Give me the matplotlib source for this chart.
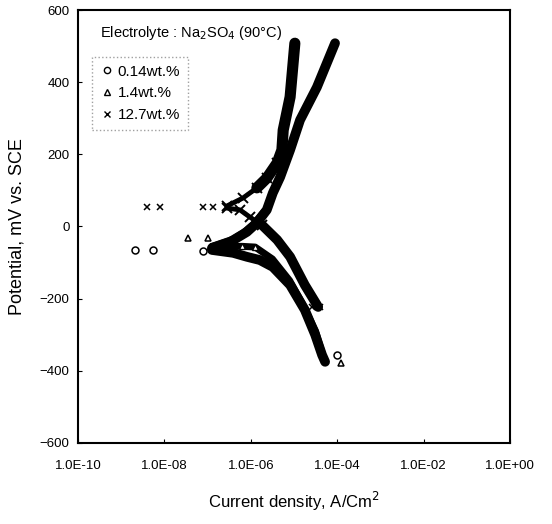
import numpy as np
import matplotlib
matplotlib.use('Agg')
import matplotlib.pyplot as plt
from matplotlib.lines import Line2D

plt.rcParams['font.family'] = ['Liberation Sans', 'DejaVu Sans']

# log10(current density), potential (mV)
# 12.7 wt.%
x127_iso = [-8.40, -8.10, -7.11, -6.88]
y127_iso = [54, 54, 54, 54]
x127_an = [-6.55, -6.18, -5.86, -5.63, -5.39, -5.28, -5.25, -5.09, -4.98]
y127_an = [57, 79, 107, 134, 176, 212, 267, 359, 508]
x127_ca = [-6.55, -6.25, -6.02, -5.74, -5.39, -5.09, -4.75, -4.44]
y127_ca = [51, 46, 26, 4, -37, -84, -162, -223]
x127_end = [-4.58, -4.40]
y127_end = [-222, -223]

# 0.14 wt.%
x014_iso = [-8.68, -8.26, -7.11]
y014_iso = [-65, -65, -68]
x014_an = [-6.90, -6.48, -6.09, -5.86, -5.63, -5.49, -5.32, -5.09, -4.86, -4.47, -4.05]
y014_an = [-60, -43, -15, 10, 46, 93, 137, 212, 295, 386, 508]
x014_ca = [-6.90, -6.41, -6.09, -5.79, -5.49, -5.09, -4.75, -4.51, -4.35, -4.28]
y014_ca = [-65, -73, -84, -93, -112, -162, -231, -300, -356, -375]
x014_end = [-4.00]
y014_end = [-356]

# 1.4 wt.%
x14_iso = [-7.45, -6.99]
y14_iso = [-32, -32]
x14_an = [-6.90, -6.41, -6.18, -5.95, -5.70]
y14_an = [-55, -35, -18, 5, 40]
x14_ca = [-6.90, -6.20, -5.90, -5.50, -5.10, -4.80, -4.50, -4.35, -4.30]
y14_ca = [-55, -55, -57, -90, -150, -215, -290, -350, -370]
x14_end = [-3.91]
y14_end = [-378]

xticks = [1e-10, 1e-8, 1e-6, 1e-4, 1e-2, 1e0]
xticklabels = ['1.0E-10', '1.0E-08', '1.0E-06', '1.0E-04', '1.0E-02', '1.0E+00']
yticks = [-600, -400, -200, 0, 200, 400, 600]

fig = plt.figure(figsize=(5.52, 5.24), dpi=100)
ax = fig.add_axes([0.1413, 0.1546, 0.7826, 0.8263])

def p(v):
    return 10 ** np.array(v)

# dense measurement bands (thin start where single markers are still visible)
ax.plot(p(x127_an[:3]), y127_an[:3], color='black', lw=3.5, zorder=2)
ax.plot(p(x127_an[2:]), y127_an[2:], color='black', lw=8, solid_capstyle='round', zorder=2)
ax.plot(p(x127_ca[:4]), y127_ca[:4], color='black', lw=3.5, zorder=2)
ax.plot(p(x127_ca[3:]), y127_ca[3:], color='black', lw=7, solid_capstyle='round', zorder=2)
ax.plot(p(x014_an), y014_an, color='black', lw=7, solid_capstyle='round', zorder=2)
ax.plot(p(x014_ca), y014_ca, color='black', lw=7, solid_capstyle='round', zorder=2)
ax.plot(p(x14_an), y14_an, color='black', lw=5, solid_capstyle='round', zorder=2)
ax.plot(p(x14_ca), y14_ca, color='black', lw=5, solid_capstyle='round', zorder=2)

ax.plot(p(x127_an[:5]), y127_an[:5], 'x', color='black', ms=7, mew=1.4)
ax.plot(p(x127_ca[:4]), y127_ca[:4], 'x', color='black', ms=7, mew=1.4)
ax.plot(p(x14_ca[1:3]), y14_ca[1:3], '^', mfc='white', mec='black', ms=5, zorder=3)

# isolated points
ax.plot(p(x127_iso), y127_iso, 'x', color='black', ms=5, mew=1.1)
ax.plot(p(x127_end), y127_end, 'x', color='black', ms=5, mew=1.1)
ax.plot(p(x014_iso), y014_iso, 'o', mfc='none', mec='black', ms=5, mew=1.1)
ax.plot(p(x014_end), y014_end, 'o', mfc='none', mec='black', ms=5, mew=1.1)
ax.plot(p(x14_iso), y14_iso, '^', mfc='none', mec='black', ms=5, mew=1.1)
ax.plot(p(x14_end), y14_end, '^', mfc='none', mec='black', ms=5, mew=1.1)

ax.set_xscale('log')
ax.set_xlim(1e-10, 1e0)
ax.set_ylim(-600, 600)
ax.set_xticks(xticks)
ax.set_xticklabels(xticklabels)
ax.minorticks_off()
ax.set_yticks(yticks)
ax.tick_params(direction='in', length=3, labelsize=9.5, pad=12)
ax.tick_params(axis='y', pad=6)
for s in ax.spines.values():
    s.set_linewidth(1.5)

ax.set_xlabel('Current density, A/Cm$^2$', fontsize=12, labelpad=13)
ax.set_ylabel('Potential, mV vs. SCE', fontsize=13, labelpad=10)

ax.text(0.051, 0.947, 'Electrolyte : Na$_2$SO$_4$ (90\u00b0C)', transform=ax.transAxes,
        fontsize=10.5, va='center', ha='left')

handles = [Line2D([], [], ls='none', marker='o', mfc='none', mec='black', ms=4.5),
           Line2D([], [], ls='none', marker='^', mfc='none', mec='black', ms=4.5),
           Line2D([], [], ls='none', marker='x', color='black', ms=4.5)]
labels = ['0.14wt.%', '1.4wt.%', '12.7wt.%']
leg = ax.legend(handles, labels, loc='upper left', bbox_to_anchor=(0.032, 0.891),
                borderaxespad=0, fontsize=11, handletextpad=0.2, handlelength=1.0,
                fancybox=False, labelspacing=0.5, borderpad=0.5)
leg.get_frame().set_linestyle(':')
leg.get_frame().set_edgecolor('#888888')
leg.get_frame().set_linewidth(1.0)

fig.savefig('out.png', dpi=100)
